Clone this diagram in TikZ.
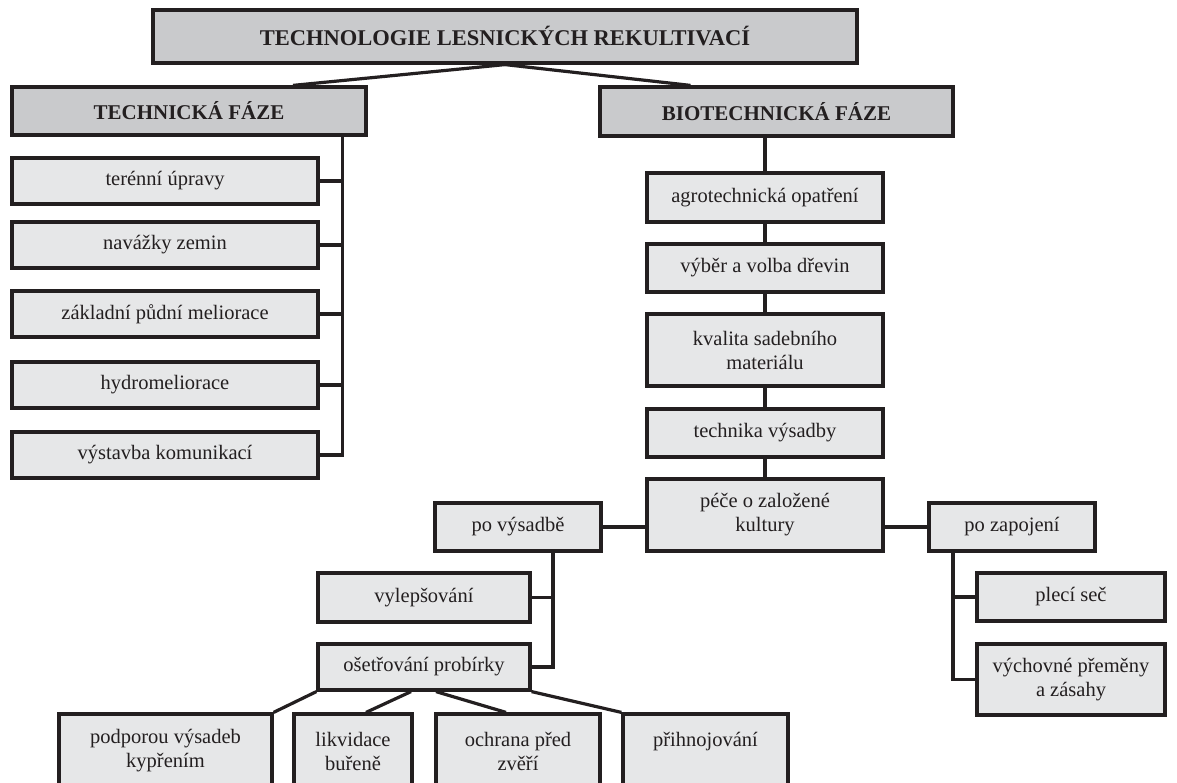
\documentclass[tikz,border=0pt]{standalone}
\usepackage{fontspec}
\setmainfont{Liberation Serif}
\usepackage{tikz}
\usetikzlibrary{calc}
\definecolor{edge}{HTML}{231F20}
\definecolor{darkfill}{HTML}{C9CACC}
\definecolor{lightfill}{HTML}{E6E7E8}

\begin{document}
\begin{tikzpicture}[x=1pt, y=-1pt,
  box/.style={draw=edge, line width=3.2pt, fill=lightfill, text=edge, align=center,
    inner sep=0pt, font=\fontsize{20.5}{24}\selectfont},
  headbox/.style={box, fill=darkfill, font=\fontsize{21}{24}\selectfont\bfseries},
  link/.style={draw=edge, line width=3.2pt}]
\useasboundingbox (0,0) rectangle (1177,783);
\clip (0,0) rectangle (1177,783);
% top level
\node[headbox, minimum width=704pt, minimum height=53pt, font=\fontsize{22.5}{26}\selectfont\bfseries] (title) at (505,36.5) {TECHNOLOGIE LESNICKÝCH REKULTIVACÍ};
\node[headbox, minimum width=354pt, minimum height=48pt] (tech) at (189,111) {TECHNICKÁ FÁZE};
\node[headbox, minimum width=353pt, minimum height=49pt] (bio) at (776.5,111.5) {BIOTECHNICKÁ FÁZE};
% technicka faze
\node[box, minimum width=306pt, minimum height=46pt] (terenni) at (165,181) {terénní úpravy};
\node[box, minimum width=306pt, minimum height=46pt] (navazky) at (165,245) {navážky zemin};
\node[box, minimum width=306pt, minimum height=46pt] (zakladni) at (165,314) {základní půdní meliorace};
\node[box, minimum width=306pt, minimum height=46pt] (hydro) at (165,385) {hydromeliorace};
\node[box, minimum width=306pt, minimum height=46pt] (vystavba) at (165,455) {výstavba komunikací};
% biotechnicka faze
\node[box, minimum width=236pt, minimum height=49pt] (agro) at (765,197.5) {agrotechnická opatření};
\node[box, minimum width=236pt, minimum height=48pt] (vyber) at (765,268) {výběr a volba dřevin};
\node[box, minimum width=236pt, minimum height=72pt] (kvalita) at (765,350) {kvalita sadebního\\materiálu};
\node[box, minimum width=236pt, minimum height=48pt] (technika) at (765,433) {technika výsadby};
\node[box, minimum width=236pt, minimum height=72pt] (pece) at (765,515) {péče o založené\\kultury};
\node[box, minimum width=166pt, minimum height=48pt] (povysadbe) at (518,527) {po výsadbě};
\node[box, minimum width=166pt, minimum height=48pt] (pozapojeni) at (1012,527) {po zapojení};
\node[box, minimum width=212pt, minimum height=49pt] (vylepsovani) at (424,597.5) {vylepšování};
\node[box, minimum width=212pt, minimum height=46pt] (osetrovani) at (424,667) {ošetřování probírky};
\node[box, minimum width=188pt, minimum height=48pt] (pleci) at (1071,597) {plecí seč};
\node[box, minimum width=188pt, minimum height=71pt] (vychovne) at (1071,679.5) {výchovné přeměny\\a zásahy};
% bottom row
\node[box, minimum width=213pt, minimum height=74pt] (podporou) at (165.5,751) {podporou výsadeb\\kypřením};
\node[box, minimum width=118pt, minimum height=74pt] (likvidace) at (353,751) {likvidace\\buřeně};
\node[box, minimum width=164pt, minimum height=74pt] (ochrana) at (518,751) {ochrana před\\zvěří};
\node[box, minimum width=165pt, minimum height=74pt] (prihnojovani) at (705.5,751) {přihnojování\\\mbox{}};
% connectors
\draw[link] (title.south) -- ([xshift=104pt]tech.north);
\draw[link] (title.south) -- ([xshift=-86pt]bio.north);
\coordinate (ltrunk) at ([xshift=-25pt]tech.south east);
\draw[link] (ltrunk) |- (vystavba.east);
\foreach \n in {terenni, navazky, zakladni, hydro}
  \draw[link] (\n.east) -- (\n.east -| ltrunk);
\draw[link] (agro.north |- bio.south) -- (agro.north);
\draw[link] (agro) -- (vyber);
\draw[link] (vyber) -- (kvalita);
\draw[link] (kvalita) -- (technika);
\draw[link] (technika) -- (pece);
\draw[link] (povysadbe.east) -- (povysadbe.east -| pece.west);
\draw[link] (pozapojeni.west) -- (pozapojeni.west -| pece.east);
\coordinate (lsub) at ([xshift=35pt]povysadbe.south);
\draw[link] (lsub) |- (osetrovani.east);
\draw[link] (vylepsovani.east) -- (vylepsovani.east -| lsub);
\coordinate (rsub) at ([xshift=-59pt]pozapojeni.south);
\draw[link] (rsub) |- (vychovne.west);
\draw[link] (pleci.west) -- (pleci.west -| rsub);
\draw[link] (osetrovani.south west) -- (podporou.north east);
\draw[link] ([xshift=-13pt]osetrovani.south) -- ([xshift=13pt]likvidace.north);
\draw[link] ([xshift=12pt]osetrovani.south) -- ([xshift=-12pt]ochrana.north);
\draw[link] (osetrovani.south east) -- (prihnojovani.north west);
\end{tikzpicture}
\end{document}
